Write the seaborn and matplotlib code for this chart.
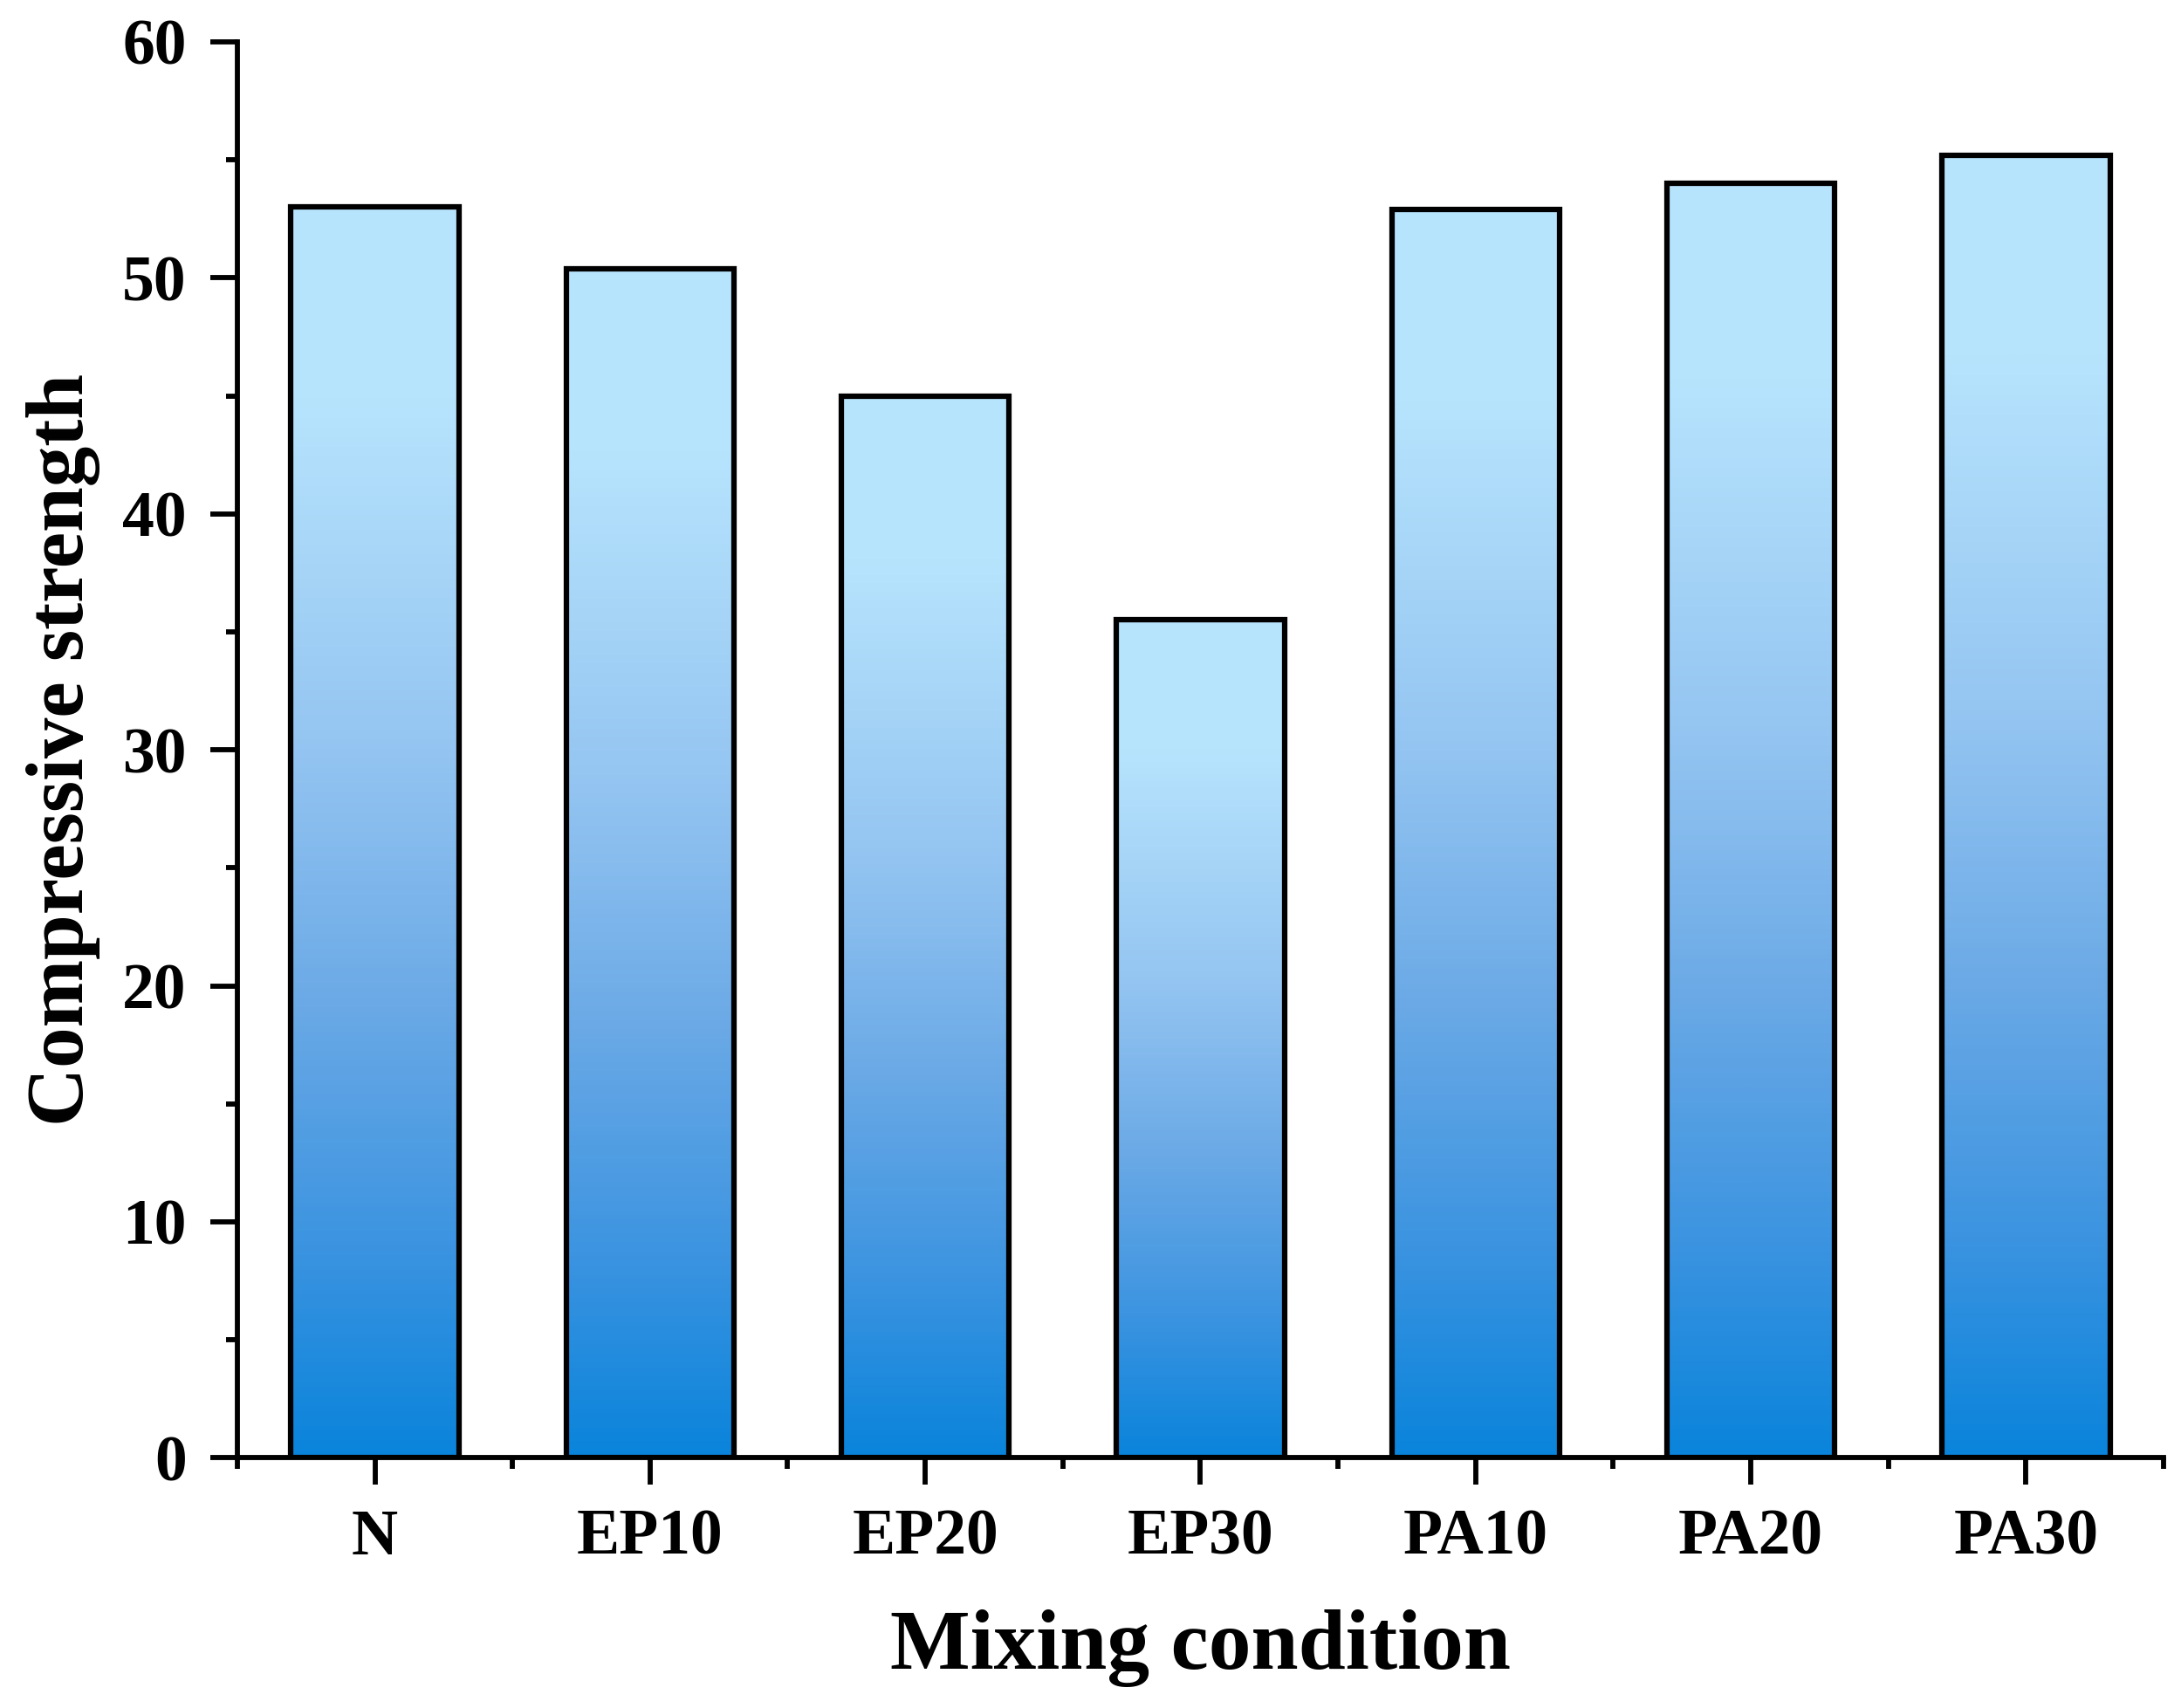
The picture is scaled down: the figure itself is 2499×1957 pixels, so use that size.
import numpy as np
import pandas as pd
import matplotlib
matplotlib.use("Agg")
import matplotlib.pyplot as plt
import seaborn as sns
from matplotlib.colors import LinearSegmentedColormap
from matplotlib.ticker import MultipleLocator

categories = ["N", "EP10", "EP20", "EP30", "PA10", "PA20", "PA30"]
strength = [53.0, 50.4, 45.0, 35.5, 52.9, 54.0, 55.2]
y_ticks = [0, 10, 20, 30, 40, 50, 60]

df = pd.DataFrame({"cond": categories, "val": strength})

sns.set_theme(style="ticks")
plt.rcParams["font.family"] = ["Liberation Serif", "DejaVu Serif"]
plt.rcParams["font.weight"] = "bold"
plt.rcParams["text.color"] = "black"
plt.rcParams["axes.labelcolor"] = "black"

fig = plt.figure(figsize=(24.99, 19.57), dpi=100)
ax = fig.add_axes([0.1088, 0.1465, 0.8832, 0.8290])

sns.barplot(data=df, x="cond", y="val", ax=ax, width=0.61,
            facecolor="none", edgecolor="black", linewidth=4.5, zorder=3)

cmap = LinearSegmentedColormap.from_list("grad", [
    (0.0, "#0A84DB"), (0.16, "#3A93E0"), (0.36, "#6AA9E6"),
    (0.56, "#93C4F1"), (0.85, "#B7E4FD"), (1.0, "#B7E4FD")])
grad = np.linspace(0, 1, 256).reshape(-1, 1)
for p in ax.patches:
    x0, y0 = p.get_x(), p.get_y()
    w, h = p.get_width(), p.get_height()
    im = ax.imshow(grad, cmap=cmap, origin="lower", aspect="auto",
                   extent=[x0, x0 + w, y0, y0 + h], zorder=2,
                   interpolation="bilinear")
    im.set_clip_path(p)

ax.set_xlim(-0.5, 6.5)
ax.set_ylim(0, 60)
ax.set_yticks(y_ticks)
ax.yaxis.set_minor_locator(MultipleLocator(5))
ax.set_xticks(np.arange(len(categories)))
ax.set_xticklabels(categories)
ax.set_xticks(np.arange(-0.5, len(categories), 1), minor=True)

for s in ["top", "right"]:
    ax.spines[s].set_visible(False)
for s in ["left", "bottom"]:
    ax.spines[s].set_linewidth(4.2)
    ax.spines[s].set_color("black")

ax.tick_params(axis="both", which="major", length=22, width=4.2,
               direction="out", labelsize=53, colors="black", pad=12)
ax.tick_params(axis="both", which="minor", length=9.5, width=4.2,
               direction="out", colors="black")
ax.tick_params(axis="x", which="major", pad=20)
ax.tick_params(axis="y", which="major", pad=20)
for lab in ax.get_xticklabels() + ax.get_yticklabels():
    lab.set_fontweight("bold")

ax.set_xlabel("Mixing condition", fontsize=70, fontweight="bold", labelpad=34)
ax.set_ylabel("Compressive strength", fontsize=67, fontweight="bold", labelpad=18)

fig.savefig("out.png", dpi=100, facecolor="white")
